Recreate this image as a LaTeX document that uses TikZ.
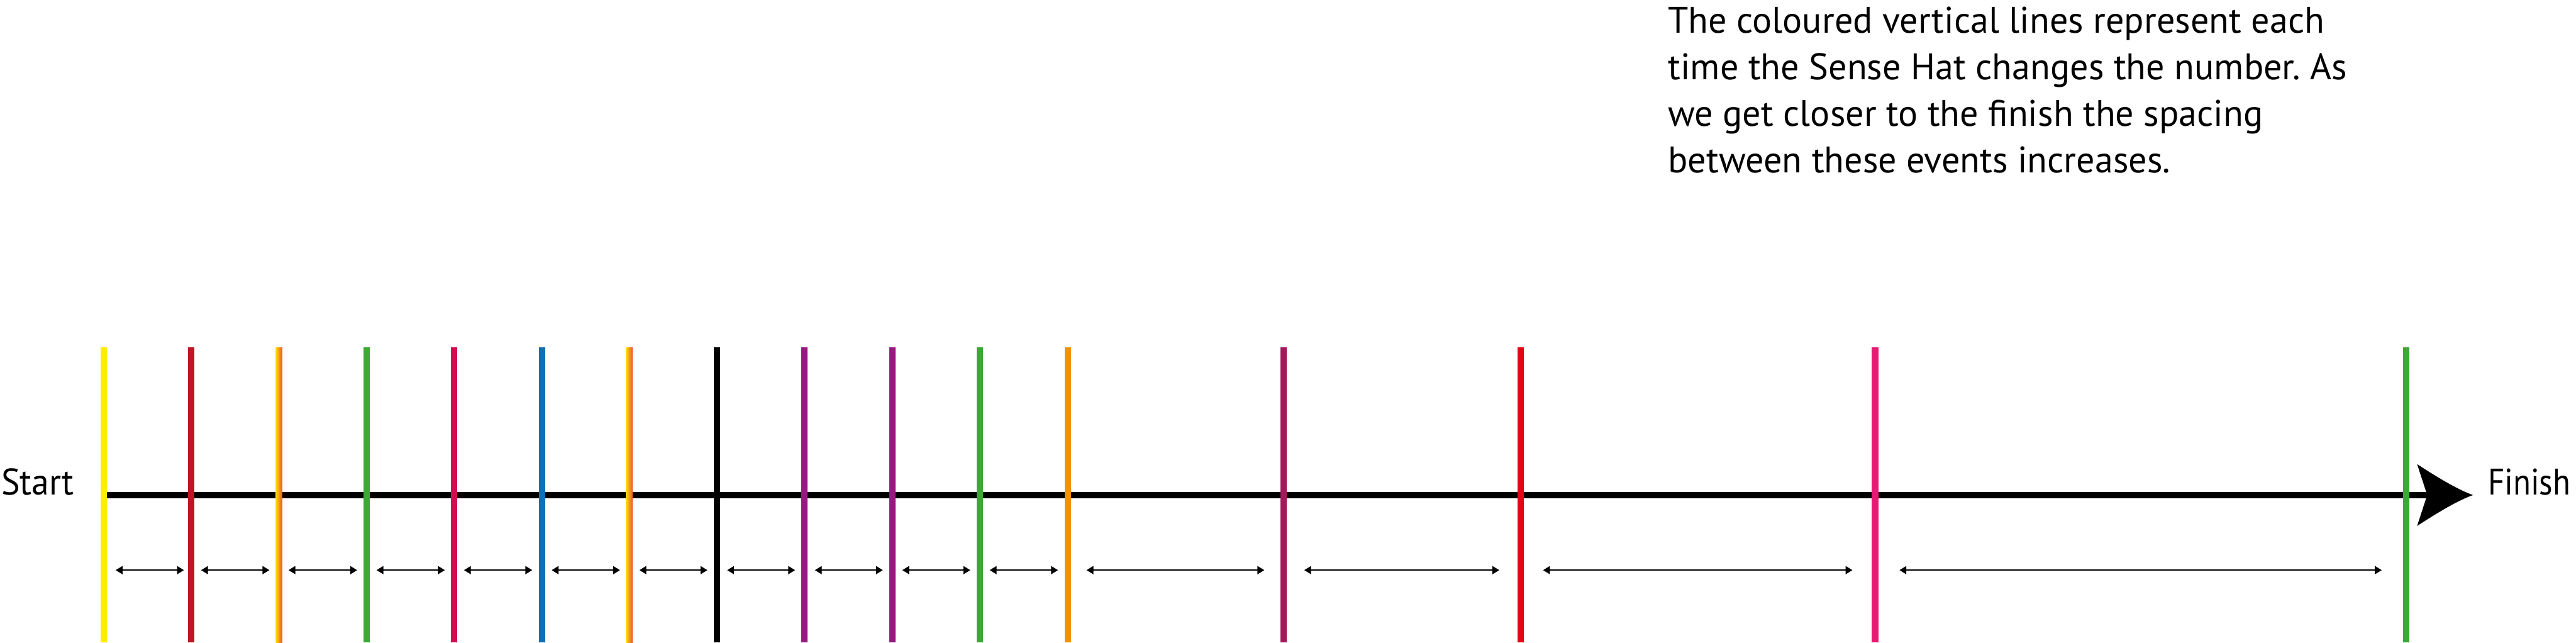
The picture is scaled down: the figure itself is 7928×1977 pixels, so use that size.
\documentclass[tikz,border=0pt]{standalone}
\usepackage{fontspec}
\setmainfont{PT Sans}
\usetikzlibrary{arrows.meta}
\definecolor{cyellow}{RGB}{255,237,0}
\definecolor{cdred}{RGB}{190,22,34}
\definecolor{cgreen}{RGB}{58,170,53}
\definecolor{ccrimson}{RGB}{214,11,82}
\definecolor{cblue}{RGB}{16,112,181}
\definecolor{cblack}{RGB}{0,0,0}
\definecolor{cpurple}{RGB}{149,27,129}
\definecolor{corange}{RGB}{243,146,0}
\definecolor{cmaroon}{RGB}{163,25,91}
\definecolor{cred}{RGB}{227,6,19}
\definecolor{cpink}{RGB}{230,27,116}
\definecolor{gyellow}{RGB}{255,218,0}
\definecolor{gred}{RGB}{236,80,55}
\frenchspacing
\begin{document}
\begin{tikzpicture}[x=0.1pt,y=-0.1pt,
  evline/.style={line width=2pt},
  axisline/.style={line width=2pt,black},
  dimarrow/.style={line width=0.28pt,{Triangle[length=2.1pt,width=2.5pt]}-{Triangle[length=2.1pt,width=2.5pt]}},
  lbl/.style={inner sep=0pt,anchor=base west,font=\fontsize{11.37pt}{14.35pt}\selectfont}]
\useasboundingbox (0,0) rectangle (7928,1977);
% positions of the event lines
\foreach \n/\x in {0/320,1/589,2/859,3/1128,4/1398,5/1668,6/1937,7/2207,8/2476,9/2746,10/3016,11/3286,12/3950,13/4680,14/5771,15/7405}{
  \coordinate (T\n) at (\x,1069);
  \coordinate (B\n) at (\x,1977);
  \coordinate (L\n) at (\x,1754);
}
% main axis
\coordinate (axS) at (320,1523);
\coordinate (axE) at (7475,1523);
\draw[axisline] (axS) -- (axE);
\fill[black] (7439,1428) .. controls (7514,1477) and (7571,1509) .. (7611,1523)
  .. controls (7571,1537) and (7514,1569) .. (7439,1618) -- (7470,1523) -- cycle;
% coloured event lines
\foreach \n/\c in {0/cyellow,1/cdred,3/cgreen,4/ccrimson,5/cblue,7/cblack,8/cpurple,9/cpurple,10/cgreen,11/corange,12/cmaroon,13/cred,14/cpink,15/cgreen}{
  \draw[evline,\c] (T\n) -- (B\n);
}
\foreach \n in {2,6}{
  \shade[left color=gyellow,right color=gred] ([xshift=-1pt]T\n) rectangle ([xshift=1pt]B\n);
}
% spacing arrows
\foreach \a/\b/\s/\e in {0/1/3.6/2.3,1/2/3.0/3.0,2/3/2.9/2.9,3/4/3.1/2.9,4/5/3.0/3.0,5/6/3.0/2.9,6/7/3.1/3.0,7/8/3.1/2.9,8/9/3.2/2.9,9/10/3.1/3.0,10/11/3.0/3.0,11/12/5.8/5.9,12/13/6.4/6.6,13/14/6.9/7.0,14/15/7.5/7.5}{
  \draw[dimarrow,shorten <=\s pt,shorten >=\e pt] (L\a) -- (L\b);
}
% labels
\node[lbl] (start) at (2,1523) {\scalebox{0.95}[1]{Start}};
\node[lbl] (finish) at (7655,1523) {\scalebox{0.87}[1]{Finish}};
\node[lbl] (t1) at (5132,101) {\scalebox{0.99}[1]{The coloured vertical lines represent each}};
\node[lbl] (t2) at (5132,245) {\scalebox{0.99}[1]{time the Sense Hat changes the number. As}};
\node[lbl] (t3) at (5132,388) {\scalebox{0.99}[1]{we get closer to the finish the spacing}};
\node[lbl] (t4) at (5132,532) {\scalebox{0.99}[1]{between these events increases.}};
\end{tikzpicture}
\end{document}
